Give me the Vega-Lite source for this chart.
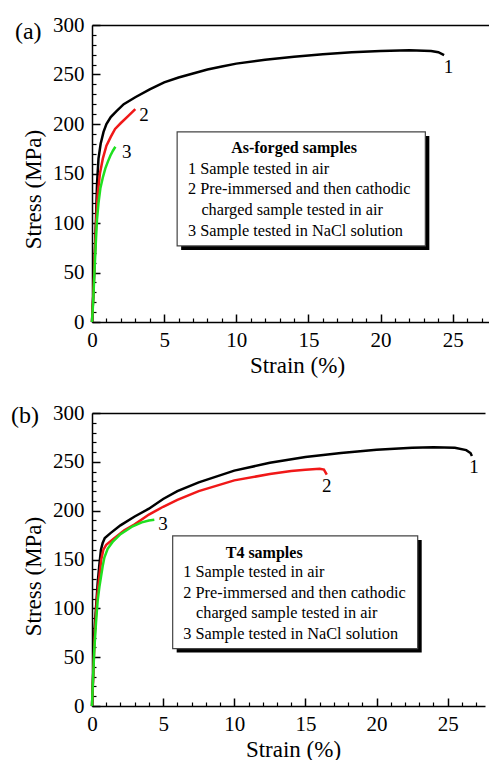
{
  "$schema": "https://vega.github.io/schema/vega-lite/v6.json",
  "padding": {"left": 11, "top": 14, "right": 0, "bottom": 0},
  "spacing": 25,
  "align": "none",
  "config": {
    "font": "Liberation Serif",
    "view": {"stroke": null},
    "axis": {"grid": false, "domainColor": "black", "tickColor": "black", "labelColor": "black", "titleColor": "black", "titleFontWeight": "normal", "labelFont": "Liberation Serif", "titleFont": "Liberation Serif"},
    "text": {"font": "Liberation Serif", "color": "black"}
  },
  "datasets": {
    "a": [
      {"s": "1", "strain": 0, "stress": 0}, {"s": "1", "strain": 0.1, "stress": 30}, {"s": "1", "strain": 0.2, "stress": 70}, {"s": "1", "strain": 0.28, "stress": 105}, {"s": "1", "strain": 0.35, "stress": 140}, {"s": "1", "strain": 0.45, "stress": 165}, {"s": "1", "strain": 0.6, "stress": 180}, {"s": "1", "strain": 0.8, "stress": 192}, {"s": "1", "strain": 1.0, "stress": 200}, {"s": "1", "strain": 1.3, "stress": 207}, {"s": "1", "strain": 1.7, "stress": 213}, {"s": "1", "strain": 2.2, "stress": 220}, {"s": "1", "strain": 3, "stress": 227}, {"s": "1", "strain": 4, "stress": 235}, {"s": "1", "strain": 5, "stress": 242}, {"s": "1", "strain": 6, "stress": 247}, {"s": "1", "strain": 7, "stress": 251}, {"s": "1", "strain": 8, "stress": 255}, {"s": "1", "strain": 9, "stress": 258}, {"s": "1", "strain": 10, "stress": 261}, {"s": "1", "strain": 12, "stress": 265}, {"s": "1", "strain": 14, "stress": 268}, {"s": "1", "strain": 16, "stress": 270.5}, {"s": "1", "strain": 18, "stress": 272.5}, {"s": "1", "strain": 20, "stress": 273.7}, {"s": "1", "strain": 22, "stress": 274.5}, {"s": "1", "strain": 23.5, "stress": 273.8}, {"s": "1", "strain": 24, "stress": 272.5}, {"s": "1", "strain": 24.4, "stress": 269.5},
      {"s": "2", "strain": 0, "stress": 0}, {"s": "2", "strain": 0.1, "stress": 30}, {"s": "2", "strain": 0.2, "stress": 70}, {"s": "2", "strain": 0.3, "stress": 105}, {"s": "2", "strain": 0.4, "stress": 130}, {"s": "2", "strain": 0.55, "stress": 150}, {"s": "2", "strain": 0.75, "stress": 165}, {"s": "2", "strain": 1.0, "stress": 178}, {"s": "2", "strain": 1.3, "stress": 187}, {"s": "2", "strain": 1.6, "stress": 195}, {"s": "2", "strain": 2.0, "stress": 201}, {"s": "2", "strain": 2.5, "stress": 208}, {"s": "2", "strain": 3.0, "stress": 215},
      {"s": "3", "strain": 0, "stress": 0}, {"s": "3", "strain": 0.08, "stress": 20}, {"s": "3", "strain": 0.19, "stress": 57}, {"s": "3", "strain": 0.28, "stress": 85}, {"s": "3", "strain": 0.35, "stress": 104}, {"s": "3", "strain": 0.45, "stress": 120}, {"s": "3", "strain": 0.58, "stress": 135}, {"s": "3", "strain": 0.75, "stress": 146}, {"s": "3", "strain": 0.92, "stress": 155}, {"s": "3", "strain": 1.1, "stress": 162}, {"s": "3", "strain": 1.27, "stress": 168}, {"s": "3", "strain": 1.45, "stress": 173}, {"s": "3", "strain": 1.62, "stress": 177}
    ],
    "b": [
      {"s": "1", "strain": 0, "stress": 0}, {"s": "1", "strain": 0.08, "stress": 30}, {"s": "1", "strain": 0.16, "stress": 74}, {"s": "1", "strain": 0.28, "stress": 100}, {"s": "1", "strain": 0.4, "stress": 126}, {"s": "1", "strain": 0.52, "stress": 145}, {"s": "1", "strain": 0.63, "stress": 160}, {"s": "1", "strain": 0.75, "stress": 167}, {"s": "1", "strain": 0.9, "stress": 172}, {"s": "1", "strain": 1.3, "stress": 177}, {"s": "1", "strain": 2, "stress": 185}, {"s": "1", "strain": 3, "stress": 194}, {"s": "1", "strain": 4, "stress": 202}, {"s": "1", "strain": 5, "stress": 212}, {"s": "1", "strain": 6, "stress": 220}, {"s": "1", "strain": 7.5, "stress": 229}, {"s": "1", "strain": 10, "stress": 241}, {"s": "1", "strain": 12.5, "stress": 249}, {"s": "1", "strain": 15, "stress": 255}, {"s": "1", "strain": 17.5, "stress": 259}, {"s": "1", "strain": 20, "stress": 262.4}, {"s": "1", "strain": 22.5, "stress": 264.5}, {"s": "1", "strain": 24, "stress": 265}, {"s": "1", "strain": 25.5, "stress": 264.5}, {"s": "1", "strain": 26.3, "stress": 262}, {"s": "1", "strain": 26.6, "stress": 259}, {"s": "1", "strain": 26.7, "stress": 256},
      {"s": "2", "strain": 0, "stress": 0}, {"s": "2", "strain": 0.08, "stress": 30}, {"s": "2", "strain": 0.2, "stress": 75}, {"s": "2", "strain": 0.35, "stress": 110}, {"s": "2", "strain": 0.51, "stress": 132}, {"s": "2", "strain": 0.65, "stress": 150}, {"s": "2", "strain": 0.8, "stress": 160}, {"s": "2", "strain": 1.0, "stress": 165}, {"s": "2", "strain": 1.5, "stress": 171}, {"s": "2", "strain": 2.27, "stress": 180}, {"s": "2", "strain": 3, "stress": 186}, {"s": "2", "strain": 4, "stress": 196}, {"s": "2", "strain": 5, "stress": 204}, {"s": "2", "strain": 6, "stress": 211}, {"s": "2", "strain": 7.5, "stress": 220}, {"s": "2", "strain": 10, "stress": 231}, {"s": "2", "strain": 12.5, "stress": 237.5}, {"s": "2", "strain": 14, "stress": 240.5}, {"s": "2", "strain": 15, "stress": 242}, {"s": "2", "strain": 16, "stress": 243}, {"s": "2", "strain": 16.3, "stress": 242}, {"s": "2", "strain": 16.5, "stress": 237},
      {"s": "3", "strain": 0, "stress": 0}, {"s": "3", "strain": 0.05, "stress": 20}, {"s": "3", "strain": 0.16, "stress": 57}, {"s": "3", "strain": 0.28, "stress": 85}, {"s": "3", "strain": 0.4, "stress": 108}, {"s": "3", "strain": 0.52, "stress": 122}, {"s": "3", "strain": 0.63, "stress": 132}, {"s": "3", "strain": 0.75, "stress": 143}, {"s": "3", "strain": 0.87, "stress": 152}, {"s": "3", "strain": 1.1, "stress": 161}, {"s": "3", "strain": 1.45, "stress": 168}, {"s": "3", "strain": 2, "stress": 176}, {"s": "3", "strain": 2.86, "stress": 184}, {"s": "3", "strain": 3.5, "stress": 188}, {"s": "3", "strain": 4.0, "stress": 190}, {"s": "3", "strain": 4.38, "stress": 190.8}
    ],
    "labA": [{"t": "1", "x": 24.38, "y": 257.8}, {"t": "2", "x": 3.28, "y": 209}, {"t": "3", "x": 2.08, "y": 172}],
    "labB": [{"t": "1", "x": 26.52, "y": 244.6}, {"t": "2", "x": 16.17, "y": 225.5}, {"t": "3", "x": 4.66, "y": 186.5}],
    "tagA": [{"t": "(a)", "x": -5.34, "y": 293}],
    "tagB": [{"t": "(b)", "x": -5.69, "y": 297}],
    "boxA": [{"x1": 5.9, "x2": 23.1, "y1": 76.8, "y2": 192}],
    "boxB": [{"x1": 5.67, "x2": 22.89, "y1": 58.8, "y2": 174.1}],
    "headA": [{"t": "As-forged samples", "x": 14.0, "y": 175.3}],
    "headB": [{"t": "T4 samples", "x": 12.1, "y": 157}],
    "itemsA": [{"t": "1 Sample tested in air", "x": 6.66, "y": 155}, {"t": "2 Pre-immersed and then cathodic", "x": 6.66, "y": 134.1}, {"t": "charged sample tested in air", "x": 7.58, "y": 112.9}, {"t": "3 Sample tested in NaCl solution", "x": 6.66, "y": 92.3}],
    "itemsB": [{"t": "1 Sample tested in air", "x": 6.42, "y": 136.8}, {"t": "2 Pre-immersed and then cathodic", "x": 6.42, "y": 115.3}, {"t": "charged sample tested in air", "x": 7.31, "y": 94.8}, {"t": "3 Sample tested in NaCl solution", "x": 6.42, "y": 74.2}]
  },
  "vconcat": [
    {
      "width": 399, "height": 297,
      "layer": [
        {"data": {"name": "boxA"}, "mark": {"type": "rect", "color": "black", "xOffset": 4, "x2Offset": 4, "yOffset": 4, "y2Offset": 4},
         "encoding": {"x": {"field": "x1", "type": "quantitative", "scale": {"domain": [0, 27.65], "nice": false, "zero": false}, "axis": {"orient": "top", "domain": true, "domainWidth": 1.5, "ticks": false, "labels": false, "title": null}}, "x2": {"field": "x2"},
                      "y": {"field": "y1", "type": "quantitative", "scale": {"domain": [0, 300], "nice": false}, "axis": {"orient": "left", "offset": -8, "values": [0, 50, 100, 150, 200, 250, 300], "tickSize": 8, "tickWidth": 1.5, "labels": false, "domain": false, "title": null}}, "y2": {"field": "y2"}}},
        {"data": {"name": "boxA"}, "mark": {"type": "rect", "fill": "white", "stroke": "#444", "strokeWidth": 1.2},
         "encoding": {"x": {"field": "x1", "type": "quantitative", "axis": {"orient": "bottom", "offset": -8, "values": [0, 5, 10, 15, 20, 25], "tickSize": 8, "tickWidth": 1.5, "labels": false, "domain": false, "title": null}}, "x2": {"field": "x2"},
                      "y": {"field": "y1", "type": "quantitative", "axis": {"orient": "left", "offset": -4, "values": [10,20,30,40,60,70,80,90,110,120,130,140,160,170,180,190,210,220,230,240,260,270,280,290], "tickSize": 4, "tickWidth": 1.2, "labels": false, "domain": false, "title": null}}, "y2": {"field": "y2"}}},
        {"data": {"name": "a"}, "mark": {"type": "line", "strokeWidth": 2.5, "clip": false},
         "encoding": {
           "x": {"field": "strain", "type": "quantitative", "scale": {"domain": [0, 27.65], "nice": false, "zero": false},
                 "axis": {"orient": "bottom", "values": [0, 5, 10, 15, 20, 25], "format": "d", "ticks": false, "domainWidth": 1.5, "labelFontSize": 21, "labelPadding": 7, "title": "Strain (%)", "titleFontSize": 23, "titlePadding": 4, "titleX": 205, "labelFlush": false, "labelOverlap": false}},
           "y": {"field": "stress", "type": "quantitative", "scale": {"domain": [0, 300], "nice": false},
                 "axis": {"orient": "left", "values": [0, 50, 100, 150, 200, 250, 300], "format": "d", "ticks": false, "domainWidth": 1.5, "labelFontSize": 21, "labelPadding": 8, "title": "Stress (MPa)", "titleFontSize": 23, "titlePadding": 7, "titleY": 164, "labelFlush": false, "labelOverlap": false}},
           "color": {"field": "s", "type": "nominal", "scale": {"domain": ["1", "2", "3"], "range": ["#000000", "#f01818", "#1fe01f"]}, "legend": null}
         }},
        {"data": {"name": "labA"}, "mark": {"type": "text", "fontSize": 19, "align": "left", "baseline": "middle"},
         "encoding": {"x": {"field": "x", "type": "quantitative", "axis": {"orient": "bottom", "offset": -4, "values": [1,2,3,4,6,7,8,9,11,12,13,14,16,17,18,19,21,22,23,24,26,27], "tickSize": 4, "tickWidth": 1.2, "labels": false, "domain": false, "title": null}},
                      "y": {"field": "y", "type": "quantitative", "axis": null},
                      "text": {"field": "t"}}},
        {"data": {"name": "tagA"}, "mark": {"type": "text", "fontSize": 24, "align": "left", "baseline": "middle"},
         "encoding": {"x": {"field": "x", "type": "quantitative", "axis": null}, "y": {"field": "y", "type": "quantitative", "axis": null}, "text": {"field": "t"}}},
        {"data": {"name": "headA"}, "mark": {"type": "text", "fontSize": 16, "fontWeight": "bold", "align": "center", "baseline": "middle"},
         "encoding": {"x": {"field": "x", "type": "quantitative", "axis": null}, "y": {"field": "y", "type": "quantitative", "axis": null}, "text": {"field": "t"}}},
        {"data": {"name": "itemsA"}, "mark": {"type": "text", "fontSize": 16.3, "align": "left", "baseline": "middle"},
         "encoding": {"x": {"field": "x", "type": "quantitative", "axis": null}, "y": {"field": "y", "type": "quantitative", "axis": null}, "text": {"field": "t"}}}
      ],
      "resolve": {"axis": {"x": "independent", "y": "independent"}}
    },
    {
      "width": 393, "height": 293,
      "layer": [
        {"data": {"name": "boxB"}, "mark": {"type": "rect", "color": "black", "xOffset": 4, "x2Offset": 4, "yOffset": 4, "y2Offset": 4},
         "encoding": {"x": {"field": "x1", "type": "quantitative", "scale": {"domain": [0, 27.62], "nice": false, "zero": false}, "axis": {"orient": "top", "domain": true, "domainWidth": 1.5, "ticks": false, "labels": false, "title": null}}, "x2": {"field": "x2"},
                      "y": {"field": "y1", "type": "quantitative", "scale": {"domain": [0, 300], "nice": false}, "axis": {"orient": "left", "offset": -8, "values": [0, 50, 100, 150, 200, 250, 300], "tickSize": 8, "tickWidth": 1.5, "labels": false, "domain": false, "title": null}}, "y2": {"field": "y2"}}},
        {"data": {"name": "boxB"}, "mark": {"type": "rect", "fill": "white", "stroke": "#444", "strokeWidth": 1.2},
         "encoding": {"x": {"field": "x1", "type": "quantitative", "axis": {"orient": "bottom", "offset": -8, "values": [0, 5, 10, 15, 20, 25], "tickSize": 8, "tickWidth": 1.5, "labels": false, "domain": false, "title": null}}, "x2": {"field": "x2"},
                      "y": {"field": "y1", "type": "quantitative", "axis": {"orient": "left", "offset": -4, "values": [10,20,30,40,60,70,80,90,110,120,130,140,160,170,180,190,210,220,230,240,260,270,280,290], "tickSize": 4, "tickWidth": 1.2, "labels": false, "domain": false, "title": null}}, "y2": {"field": "y2"}}},
        {"data": {"name": "b"}, "mark": {"type": "line", "strokeWidth": 2.5, "clip": false},
         "encoding": {
           "x": {"field": "strain", "type": "quantitative", "scale": {"domain": [0, 27.62], "nice": false, "zero": false},
                 "axis": {"orient": "bottom", "values": [0, 5, 10, 15, 20, 25], "format": "d", "ticks": false, "domainWidth": 1.5, "labelFontSize": 21, "labelPadding": 7, "title": "Strain (%)", "titleFontSize": 23, "titlePadding": 4, "titleX": 201, "labelFlush": false, "labelOverlap": false}},
           "y": {"field": "stress", "type": "quantitative", "scale": {"domain": [0, 300], "nice": false},
                 "axis": {"orient": "left", "values": [0, 50, 100, 150, 200, 250, 300], "format": "d", "ticks": false, "domainWidth": 1.5, "labelFontSize": 21, "labelPadding": 8, "title": "Stress (MPa)", "titleFontSize": 23, "titlePadding": 7, "titleY": 163, "labelFlush": false, "labelOverlap": false}},
           "color": {"field": "s", "type": "nominal", "scale": {"domain": ["1", "2", "3"], "range": ["#000000", "#f01818", "#1fe01f"]}, "legend": null}
         }},
        {"data": {"name": "labB"}, "mark": {"type": "text", "fontSize": 19, "align": "left", "baseline": "middle"},
         "encoding": {"x": {"field": "x", "type": "quantitative", "axis": {"orient": "bottom", "offset": -4, "values": [1,2,3,4,6,7,8,9,11,12,13,14,16,17,18,19,21,22,23,24,26,27], "tickSize": 4, "tickWidth": 1.2, "labels": false, "domain": false, "title": null}},
                      "y": {"field": "y", "type": "quantitative", "axis": null},
                      "text": {"field": "t"}}},
        {"data": {"name": "tagB"}, "mark": {"type": "text", "fontSize": 24, "align": "left", "baseline": "middle"},
         "encoding": {"x": {"field": "x", "type": "quantitative", "axis": null}, "y": {"field": "y", "type": "quantitative", "axis": null}, "text": {"field": "t"}}},
        {"data": {"name": "headB"}, "mark": {"type": "text", "fontSize": 16, "fontWeight": "bold", "align": "center", "baseline": "middle"},
         "encoding": {"x": {"field": "x", "type": "quantitative", "axis": null}, "y": {"field": "y", "type": "quantitative", "axis": null}, "text": {"field": "t"}}},
        {"data": {"name": "itemsB"}, "mark": {"type": "text", "fontSize": 16.3, "align": "left", "baseline": "middle"},
         "encoding": {"x": {"field": "x", "type": "quantitative", "axis": null}, "y": {"field": "y", "type": "quantitative", "axis": null}, "text": {"field": "t"}}}
      ],
      "resolve": {"axis": {"x": "independent", "y": "independent"}}
    }
  ]
}
